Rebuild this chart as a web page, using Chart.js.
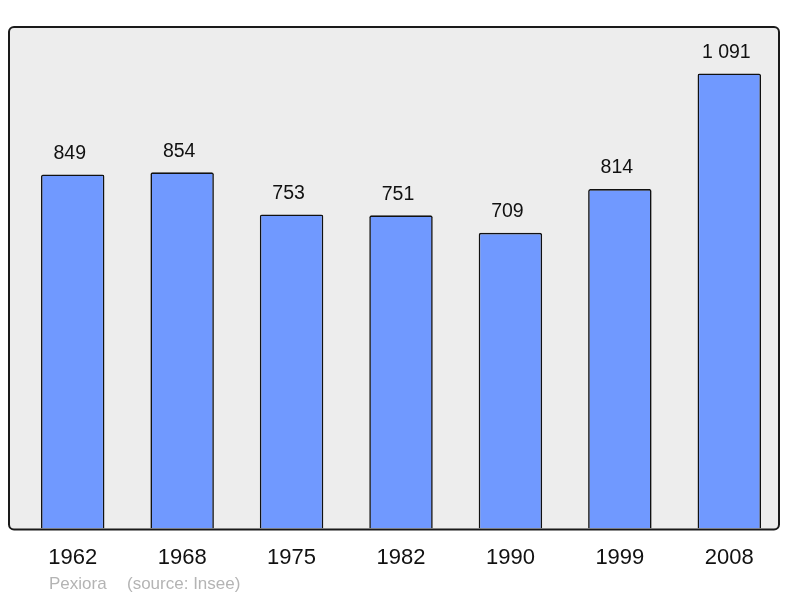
<!DOCTYPE html>
<html>
<head>
<meta charset="utf-8">
<script src="https://cdn.jsdelivr.net/npm/chart.js@4"></script>
<style>
  html, body { margin: 0; padding: 0; background: #fff; }
  #wrap { width: 800px; height: 598px; }
</style>
</head>
<body>
<div id="wrap"><canvas id="myChart" width="800" height="598"></canvas></div>
<script>
var years = ['1962', '1968', '1975', '1982', '1990', '1999', '2008'];
var population = [849, 854, 753, 751, 709, 814, 1091];
var yMax = 1200;

function fmt(n) {
    return String(n).replace(/\B(?=(\d{3})+(?!\d))/g, ' ');
}

// grey frame behind the bars
var frame = {
    id: 'frame',
    beforeDatasetsDraw: function (chart) {
        var a = chart.chartArea, c = chart.ctx;
        var x = a.left - 9, y = a.top - 1, w = a.right - 5 - x, h = a.bottom + 1 - y;
        c.save();
        c.beginPath();
        c.roundRect(x, y, w, h, 5);
        c.fillStyle = '#ededed';
        c.fill();
        c.restore();
    },
    afterDatasetsDraw: function (chart) {
        var a = chart.chartArea, c = chart.ctx;
        var x = a.left - 9, y = a.top - 1, w = a.right - 5 - x, h = a.bottom + 1 - y;
        c.save();
        c.beginPath();
        c.roundRect(x, y, w, h, 5);
        c.lineWidth = 2;
        c.strokeStyle = '#1a1a1a';
        c.stroke();
        // value labels
        c.fillStyle = '#111';
        c.font = '19.5px "Liberation Sans", Arial, sans-serif';
        c.textAlign = 'center';
        c.textBaseline = 'middle';
        chart.getDatasetMeta(0).data.forEach(function (bar, i) {
            c.fillText(fmt(population[i]), bar.x - 3, bar.y - 21);
        });
        // footer
        c.fillStyle = '#b4b4b4';
        c.font = '17px "Liberation Sans", Arial, sans-serif';
        c.textAlign = 'left';
        c.fillText('Pexiora', 49, 584);
        c.fillText('(source: Insee)', 127, 584);
        c.restore();
    }
};

var ctx = document.getElementById('myChart').getContext('2d');
var myChart = new Chart(ctx, {
    type: 'bar',
    data: {
        labels: years,
        datasets: [{
            data: population,
            backgroundColor: '#7099ff',
            borderColor: '#111',
            borderWidth: 1.6,
            borderRadius: { topLeft: 2, topRight: 2 },
            borderSkipped: 'bottom',
            barPercentage: 0.58,
            categoryPercentage: 1
        }]
    },
    options: {
        responsive: false,
        animation: false,
        layout: { padding: { left: 18, right: 16, top: 28, bottom: 11 } },
        plugins: {
            legend: { display: false },
            tooltip: { enabled: false }
        },
        scales: {
            y: { display: false, min: 0, max: yMax },
            x: {
                grid: { display: false, drawTicks: false },
                border: { display: false },
                ticks: {
                    color: '#111',
                    padding: 16,
                    font: { size: 22, family: '"Liberation Sans", Arial, sans-serif' }
                }
            }
        }
    },
    plugins: [frame]
});
</script>
</body>
</html>
